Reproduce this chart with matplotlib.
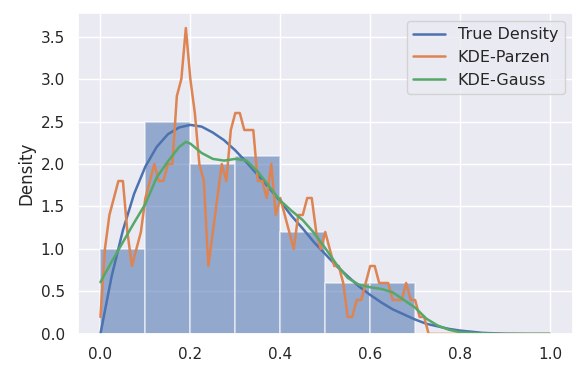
import matplotlib
matplotlib.use('Agg')
import matplotlib.pyplot as plt
import seaborn as sns
import numpy as np

sns.set_theme(style='darkgrid')

# histogram (density), bin width 0.1
bin_left = [0.0, 0.1, 0.2, 0.3, 0.4, 0.5, 0.6]
bin_height = [1.0, 2.5, 2.0, 2.1, 1.2, 0.6, 0.6]

# true density, read at 0.025 steps
true_x = [0.0, 0.025, 0.05, 0.075, 0.1, 0.125, 0.15, 0.175, 0.2, 0.225,
          0.25, 0.275, 0.3, 0.325, 0.35, 0.375, 0.4, 0.425, 0.45, 0.475,
          0.5, 0.525, 0.55, 0.575, 0.6, 0.625, 0.65, 0.675, 0.7, 0.725,
          0.75, 0.775, 0.8, 0.85, 0.9, 0.95, 1.0]
true_y = [0.0, 0.68, 1.22, 1.65, 1.97, 2.20, 2.35, 2.43, 2.46, 2.44,
          2.37, 2.28, 2.16, 2.02, 1.87, 1.72, 1.56, 1.39, 1.24, 1.08,
          0.94, 0.80, 0.68, 0.56, 0.46, 0.37, 0.29, 0.23, 0.17, 0.12,
          0.09, 0.06, 0.04, 0.013, 0.003, 0.0, 0.0]

# Parzen window estimate at 0.01 steps
parzen_x = [round(0.01 * i, 2) for i in range(101)]
parzen_y = [0.2, 1.0, 1.4, 1.6, 1.8, 1.8, 1.2, 0.8, 1.0, 1.2,
            1.6, 1.8, 2.0, 1.8, 1.8, 2.0, 2.0, 2.8, 3.0, 3.6,
            3.0, 2.6, 2.0, 1.8, 0.8, 1.2, 1.6, 2.0, 1.8, 2.4,
            2.6, 2.6, 2.4, 2.4, 2.4, 1.8, 1.8, 1.6, 2.0, 1.4,
            1.6, 1.4, 1.2, 1.0, 1.4, 1.4, 1.6, 1.6, 1.2, 1.0,
            1.2, 1.0, 0.8, 0.8, 0.6, 0.2, 0.2, 0.4, 0.4, 0.6,
            0.8, 0.8, 0.6, 0.6, 0.6, 0.4, 0.4, 0.4, 0.6, 0.4,
            0.4, 0.2, 0.2, 0.0, 0.0, 0.0, 0.0, 0.0, 0.0, 0.0,
            0.0, 0.0, 0.0, 0.0, 0.0, 0.0, 0.0, 0.0, 0.0, 0.0,
            0.0, 0.0, 0.0, 0.0, 0.0, 0.0, 0.0, 0.0, 0.0, 0.0,
            0.0]

# Gaussian KDE, read at 0.025 steps
gauss_x = [0.0, 0.025, 0.05, 0.075, 0.1, 0.125, 0.15, 0.175, 0.19, 0.2,
           0.225, 0.25, 0.275, 0.3, 0.325, 0.35, 0.375, 0.4, 0.425, 0.45,
           0.475, 0.5, 0.525, 0.55, 0.575, 0.6, 0.625, 0.65, 0.675, 0.7,
           0.725, 0.75, 0.775, 0.8, 0.85, 0.9, 1.0]
gauss_y = [0.61, 0.85, 1.08, 1.31, 1.53, 1.84, 2.03, 2.20, 2.26, 2.24,
           2.13, 2.06, 2.04, 2.06, 2.04, 1.91, 1.74, 1.57, 1.45, 1.34,
           1.19, 1.01, 0.82, 0.66, 0.58, 0.55, 0.53, 0.49, 0.40, 0.31,
           0.18, 0.10, 0.05, 0.02, 0.005, 0.0, 0.0]

fig = plt.figure(figsize=(5.86, 3.74), dpi=100)
ax = fig.add_axes([0.133, 0.107, 0.844, 0.859])

ax.bar(bin_left, bin_height, width=0.1, align='edge', color='C0', alpha=0.55,
       edgecolor='white', linewidth=1.2)
ax.plot(true_x, true_y, color='C0', lw=1.8, label='True Density')
ax.plot(parzen_x, parzen_y, color='C1', lw=1.8, label='KDE-Parzen')
ax.plot(gauss_x, gauss_y, color='C2', lw=1.8, label='KDE-Gauss')

ax.set_ylim(0, 3.78)
ax.set_xlim(-0.05, 1.05)
ax.tick_params(labelsize=11)
ax.set_ylabel('Density', fontsize=12)
ax.legend(loc='upper right', fontsize=11.5)

fig.savefig('out.png')
